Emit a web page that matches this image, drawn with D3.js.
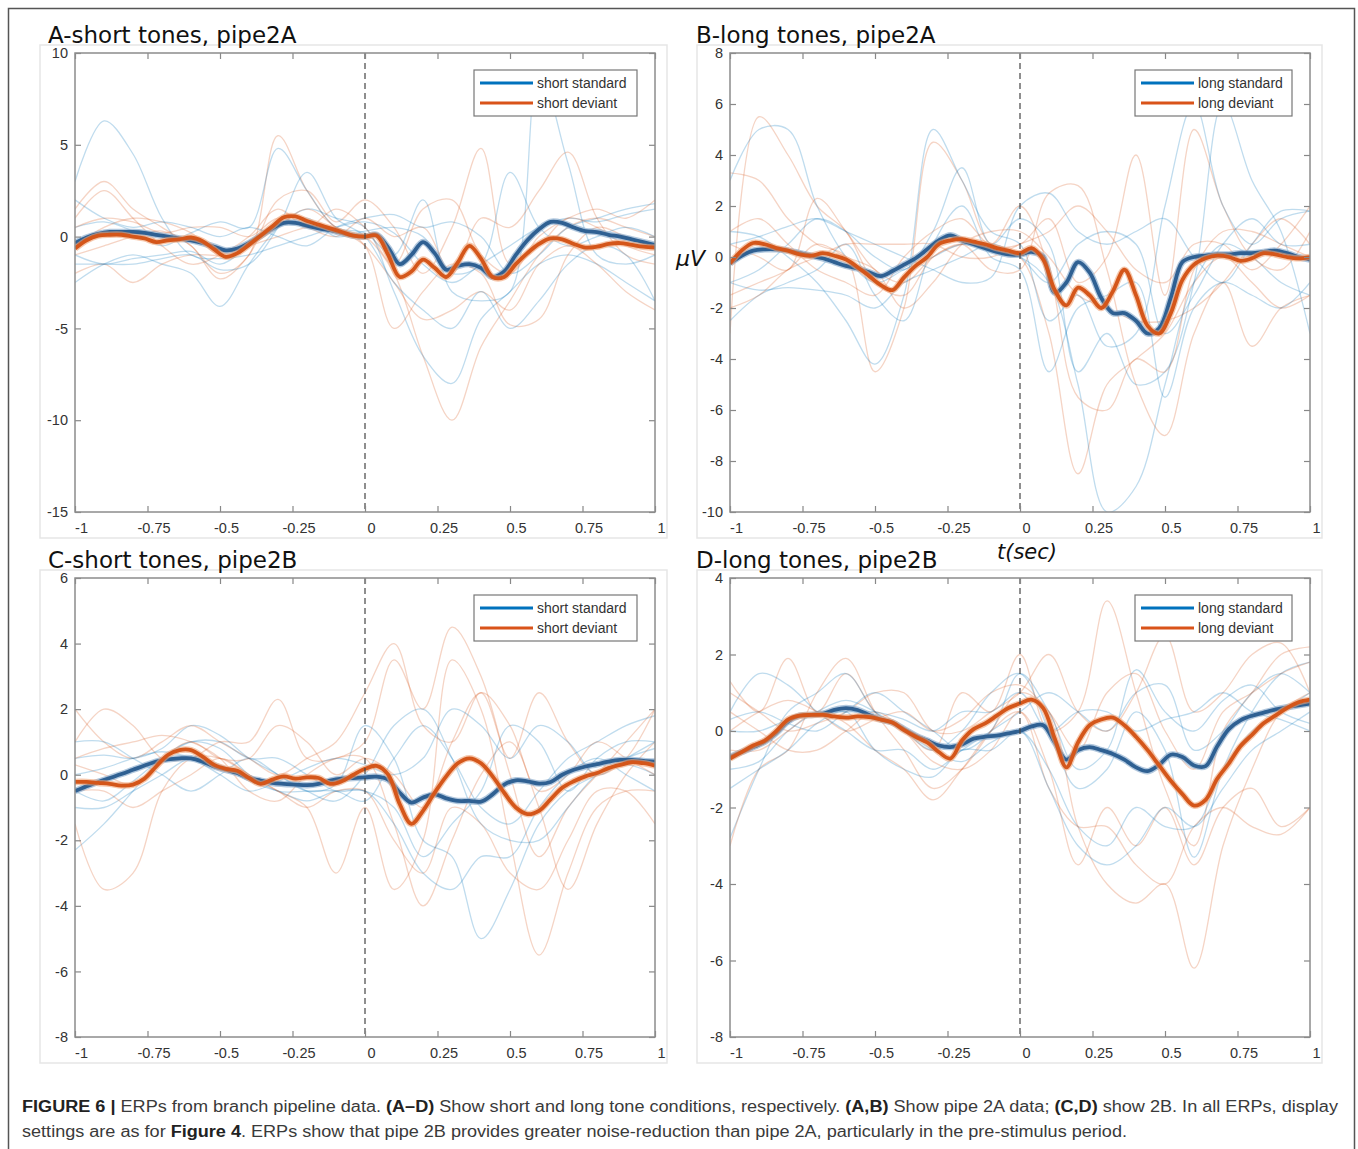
<!DOCTYPE html>
<html lang="en">
<head>
<meta charset="UTF-8">
<title>ERPs from branch pipeline data</title>
<script src="https://cdn.jsdelivr.net/npm/d3@7"></script>
<style>
body { margin: 0; background: #fff; }
svg text { font-family: "Liberation Sans", Arial, sans-serif; }
.title { font-family: "DejaVu Sans", sans-serif; font-size: 23px; fill: #111; }
.tick text { font-size: 14.5px; fill: #333; }
.legend text { font-size: 14px; fill: #333; }
.caption { font-size: 16px; fill: #3a3a3a; }
</style>
</head>
<body>
<svg id="fig" width="1358" height="1149"></svg>
<script>
// ---- data ----
// time grid for the grand averages (s), every 40 ms
var tMean = d3.range(-1, 1.0001, 0.04);
// time grid for the single-subject traces (s)
var tTrial = d3.range(-1, 1.0001, 0.1);
var xTicks = [-1, -0.75, -0.5, -0.25, 0, 0.25, 0.5, 0.75, 1];

// A - short tones, pipe2A
var aStd = [-0.35,-0.05,0.15,0.25,0.25,0.25,0.2,0.1,0.0,-0.1,
  -0.2,-0.35,-0.55,-0.75,-0.65,-0.35,0.05,0.45,0.75,0.75,
  0.6,0.45,0.35,0.2,0.05,0.0,0.1,-0.6,-1.5,-1.0,
  -0.3,-0.9,-1.8,-1.6,-1.5,-1.7,-2.2,-1.9,-1.0,-0.2,
  0.4,0.8,0.75,0.5,0.3,0.25,0.1,0.0,-0.15,-0.3,-0.45];
var aDev = [-0.65,-0.2,0.05,0.1,0.1,0.0,-0.1,-0.3,-0.2,-0.15,
  -0.05,-0.25,-0.7,-1.1,-0.9,-0.45,0.05,0.55,1.05,1.1,
  0.85,0.65,0.45,0.25,0.05,0.0,0.05,-1.0,-2.2,-1.9,
  -1.25,-1.7,-2.2,-1.4,-0.5,-1.2,-2.2,-2.2,-1.5,-0.9,
  -0.4,-0.1,-0.15,-0.4,-0.6,-0.55,-0.4,-0.35,-0.45,-0.55,-0.6];
var aStdTrials = [
  [3.0,6.3,4.5,1.0,-1.0,-1.2,-1.0,-0.5,0.0,0.5,0.8,0.2,-1.5,-2.5,-1.5,-0.5,0.5,1.0,0.8,1.2,1.5],
  [-2.5,-1.5,-1.0,-1.5,-2.0,-3.8,-1.5,0.5,1.5,1.0,0.5,-3.0,-6.5,-8.0,-4.5,-3.0,-1.5,-1.0,-1.5,-2.5,-3.5],
  [0.5,0.8,0.3,-0.5,0.2,0.8,0.5,4.8,2.5,0.5,0.2,-1.0,2.0,-3.0,-3.5,-3.0,9.0,4.0,-1.0,-1.5,-1.0],
  [-1.0,-1.5,-1.2,-1.0,-0.8,-1.5,-0.5,0.5,1.0,0.0,0.3,0.5,0.0,-2.0,-1.5,3.5,0.5,-0.5,0.0,0.5,0.0],
  [2.0,1.0,0.5,0.8,0.5,0.0,0.5,0.0,-0.5,0.5,1.0,1.2,0.5,0.8,0.0,-2.0,-1.0,0.5,1.0,1.5,1.8],
  [-1.5,-1.5,-1.5,-1.2,-1.0,-1.8,-1.5,0.5,3.5,1.0,0.0,-2.5,-4.0,-5.0,-3.0,-5.0,-3.5,-1.5,-0.5,-1.0,-3.5]
];
var aDevTrials = [
  [1.5,3.0,1.5,0.5,-0.5,-2.0,-1.0,5.5,2.5,0.5,0.0,-2.0,-6.5,-10.0,-6.0,-3.5,-1.0,0.5,1.0,0.5,0.0],
  [-1.0,-0.5,0.0,0.3,-0.5,-2.3,-1.0,2.0,2.5,0.8,2.0,0.5,-2.0,0.5,4.8,-1.5,-0.5,1.0,0.5,-0.5,-1.0],
  [-2.0,-1.5,-2.5,-1.5,-1.0,-1.0,-0.5,0.0,0.5,0.5,-0.5,-5.0,-3.0,-1.5,-2.0,-4.8,-4.5,-1.0,0.5,0.0,-0.5],
  [0.5,1.0,0.8,0.2,0.5,0.5,0.0,1.0,0.5,0.0,1.0,0.0,0.5,-2.0,1.0,0.5,2.5,4.6,1.0,-1.0,-1.5],
  [-0.5,0.5,1.0,0.8,0.2,-1.0,-0.5,0.5,1.5,0.5,-0.5,-2.5,-4.5,-4.0,-3.0,-4.0,-1.5,-0.5,-1.5,-3.0,-4.0],
  [1.0,2.5,1.0,-0.5,-1.5,-1.0,0.0,1.5,0.5,1.5,0.5,-1.5,1.5,2.0,-1.0,-2.0,0.0,1.0,1.5,1.0,2.0]
];

// B - long tones, pipe2A
var bStd = [-0.25,0.05,0.25,0.3,0.3,0.25,0.15,0.05,-0.05,-0.2,
  -0.35,-0.45,-0.6,-0.75,-0.55,-0.3,-0.05,0.3,0.65,0.85,
  0.65,0.5,0.35,0.2,0.1,0.1,0.2,0.0,-1.4,-1.0,
  -0.2,-0.6,-1.6,-2.2,-2.2,-2.5,-3.0,-2.8,-1.6,-0.2,
  0.0,0.05,0.1,0.1,0.15,0.15,0.2,0.25,0.15,0.0,-0.1];
var bDev = [-0.25,0.25,0.55,0.5,0.35,0.25,0.1,0.05,0.15,0.05,
  -0.1,-0.4,-0.75,-1.1,-1.3,-0.8,-0.35,0.0,0.5,0.65,
  0.7,0.6,0.5,0.35,0.25,0.15,0.35,-0.1,-1.3,-1.9,
  -1.2,-1.5,-2.0,-1.35,-0.5,-1.5,-2.7,-3.0,-2.2,-0.9,
  -0.3,-0.05,0.05,0.0,-0.15,-0.05,0.15,0.1,0.0,-0.05,0.0];
var bStdTrials = [
  [3.0,5.0,5.0,2.0,0.0,-1.0,-0.5,0.0,0.5,0.2,0.0,-1.0,-5.0,-10.0,-9.0,-5.0,-1.0,0.5,0.0,-1.0,-1.5],
  [1.0,0.8,0.0,-1.0,-2.5,-4.2,-1.5,5.0,3.0,1.0,0.5,-2.5,-1.5,-3.5,-3.0,2.0,6.0,2.0,0.5,1.5,1.8],
  [-1.0,-0.5,0.5,1.5,1.0,0.0,-0.5,1.0,3.5,0.5,1.5,0.5,-4.5,-3.0,-5.0,-4.5,-1.0,6.0,3.0,1.0,-3.0],
  [-2.5,-1.5,-1.0,-0.5,0.5,-1.5,-2.5,0.5,2.0,0.0,-0.5,-4.5,-2.0,-1.5,-1.0,-5.5,-2.0,-1.0,-1.5,-2.0,-1.0],
  [0.5,0.8,1.2,1.5,1.0,0.5,0.0,-0.5,-1.0,-0.8,2.0,2.5,1.0,0.5,1.0,1.5,0.0,-1.0,0.5,1.8,1.8],
  [-1.0,-1.3,-1.2,-1.3,-1.5,-2.0,-1.0,-0.5,0.0,0.5,0.0,-1.0,0.5,1.0,0.5,-3.0,-1.5,0.5,1.5,0.5,0.5]
];
var bDevTrials = [
  [-3.0,5.5,4.0,2.0,1.0,-1.0,-1.5,0.0,0.5,0.5,0.0,-3.0,-8.5,-5.0,-4.0,-3.0,-1.0,0.0,-1.0,-2.0,-1.5],
  [3.3,3.0,1.5,0.5,0.0,-4.5,-2.0,4.5,3.0,0.5,0.5,1.5,-1.0,0.0,4.0,-1.5,5.0,2.0,0.0,-0.5,1.0],
  [0.5,0.0,-0.5,2.3,1.0,-0.5,-1.0,0.0,0.5,-0.5,-0.5,2.5,2.8,-0.5,-5.0,-7.0,-3.0,-1.0,-3.5,-2.0,-1.5],
  [-1.5,-1.0,-0.5,0.5,0.0,-0.5,-2.0,-1.0,0.5,1.0,1.0,0.0,-1.5,-2.0,-2.5,-2.5,-2.0,-1.0,0.5,1.5,0.5],
  [1.0,1.5,0.5,-0.5,-1.0,-1.5,0.0,1.0,1.5,0.5,2.0,-0.5,-5.5,-6.0,-4.0,-4.5,-0.5,1.0,1.0,0.5,0.0],
  [-2.0,-1.5,-0.5,0.0,0.5,0.5,0.5,0.5,0.0,0.0,0.5,1.0,2.0,1.0,-0.5,-1.0,0.5,0.5,-0.5,0.5,2.0]
];

// C - short tones, pipe2B
var cStd = [-0.5,-0.35,-0.22,-0.1,0.02,0.15,0.28,0.4,0.47,0.5,
  0.5,0.4,0.25,0.15,0.05,-0.1,-0.18,-0.25,-0.28,-0.3,
  -0.32,-0.28,-0.18,-0.12,-0.1,-0.08,-0.06,-0.15,-0.55,-0.85,
  -0.7,-0.6,-0.72,-0.8,-0.8,-0.82,-0.6,-0.3,-0.17,-0.2,
  -0.27,-0.22,0.0,0.15,0.25,0.32,0.4,0.45,0.45,0.42,0.4];
var cDev = [-0.22,-0.22,-0.25,-0.28,-0.33,-0.3,-0.12,0.25,0.6,0.75,
  0.75,0.55,0.3,0.18,0.12,-0.1,-0.28,-0.15,-0.05,-0.12,
  -0.08,-0.1,-0.28,-0.2,0.0,0.18,0.27,0.0,-0.9,-1.5,
  -1.1,-0.55,-0.05,0.35,0.5,0.35,-0.05,-0.55,-1.0,-1.2,
  -1.1,-0.75,-0.4,-0.2,-0.05,0.05,0.2,0.3,0.38,0.35,0.28];
var cStdTrials = [
  [-2.3,-1.5,-0.5,0.5,1.0,0.8,0.0,-0.5,-0.5,-0.5,-0.8,0.5,1.5,0.5,-1.0,-1.5,-0.5,0.5,1.0,1.5,1.8],
  [0.5,0.6,0.5,0.8,1.5,1.2,0.5,0.0,-0.5,-0.3,1.5,0.5,-2.0,-2.5,-5.0,-3.5,-1.5,-0.5,0.0,0.5,0.8],
  [-1.0,-1.0,-0.5,0.0,0.5,0.3,-0.2,-0.5,-0.8,-0.5,-0.5,-1.0,-2.5,-1.5,-0.5,1.5,1.0,-0.5,0.5,1.0,1.0],
  [1.0,1.0,0.5,0.0,-0.5,0.0,0.5,0.0,-0.5,-0.8,0.0,1.5,2.0,0.5,-1.5,-2.0,-2.0,-1.0,0.0,0.3,0.0],
  [-0.5,-0.8,-0.2,0.5,1.0,1.0,0.5,0.5,0.0,-0.5,-0.5,-1.5,-3.0,-3.5,-2.5,-2.5,-1.0,0.0,0.5,0.0,-0.5],
  [0.0,0.2,0.5,0.7,0.5,0.0,-0.5,-0.2,0.2,0.5,0.3,0.0,0.5,2.0,1.5,0.5,1.5,1.0,0.0,0.5,1.0]
];
var cDevTrials = [
  [1.0,2.0,1.5,0.5,0.5,1.0,1.0,2.3,0.5,0.5,1.0,3.5,2.0,4.5,3.0,0.0,-2.5,-1.0,0.0,1.0,2.0],
  [-1.5,-3.5,-3.0,-0.5,0.5,0.5,0.0,-0.5,-1.0,-3.0,-1.0,-3.5,-2.0,3.5,2.0,-2.0,-5.5,-3.0,-1.0,-0.5,-0.5],
  [0.5,0.8,1.0,1.2,1.0,0.5,-0.5,-0.8,0.0,0.5,0.5,-1.5,-4.0,-2.0,0.0,1.0,-1.0,-3.5,-1.5,0.0,1.0],
  [2.0,1.0,0.5,1.0,1.5,1.0,0.5,0.0,0.5,1.0,2.5,4.0,1.5,1.0,2.5,0.5,2.5,1.0,0.0,0.5,2.0],
  [-0.5,-0.5,-1.0,-0.5,0.0,0.5,0.0,-0.5,-1.0,-0.5,-0.5,-2.0,-3.0,-1.0,-1.5,-3.0,-3.5,-2.0,-0.5,-0.5,-1.5],
  [0.3,0.0,-0.3,0.5,1.0,0.5,0.5,1.5,1.0,0.0,0.5,0.0,-1.0,1.0,2.5,1.5,-0.5,0.0,1.0,0.5,0.0]
];

// D - long tones, pipe2B
var dStd = [-0.68,-0.55,-0.42,-0.28,-0.05,0.25,0.4,0.42,0.45,0.55,
  0.6,0.55,0.42,0.3,0.22,0.05,-0.12,-0.25,-0.38,-0.42,
  -0.35,-0.2,-0.15,-0.12,-0.06,0.0,0.12,0.15,-0.3,-0.75,
  -0.5,-0.42,-0.5,-0.6,-0.75,-0.95,-1.05,-0.88,-0.62,-0.68,
  -0.9,-0.92,-0.4,0.05,0.28,0.4,0.48,0.56,0.62,0.67,0.72];
var dDev = [-0.72,-0.55,-0.38,-0.25,0.0,0.3,0.4,0.42,0.42,0.38,
  0.35,0.38,0.36,0.3,0.22,0.02,-0.15,-0.3,-0.55,-0.72,
  -0.25,0.05,0.2,0.4,0.6,0.72,0.82,0.6,-0.2,-0.95,
  -0.3,0.15,0.3,0.35,0.15,-0.15,-0.5,-0.9,-1.3,-1.65,
  -1.95,-1.8,-1.25,-0.85,-0.4,-0.1,0.2,0.4,0.6,0.75,0.82];
var dStdTrials = [
  [-2.8,-1.0,0.5,1.0,1.5,0.5,0.0,-0.5,0.0,1.0,1.5,0.0,-1.5,-1.0,0.5,-0.5,-3.3,-1.0,0.5,1.5,1.8],
  [0.5,1.5,1.2,0.5,0.0,-0.5,-0.5,-1.0,-0.5,0.0,0.5,1.0,0.5,0.0,1.0,1.2,-0.5,0.0,1.0,1.5,1.0],
  [-1.0,-0.8,0.0,0.5,0.8,0.5,0.0,-0.5,-0.8,-0.3,0.0,-1.0,-2.5,-3.0,-2.0,-2.5,-2.5,-1.0,0.0,0.5,1.0],
  [0.3,0.5,0.2,0.0,0.5,1.0,0.5,0.0,-0.5,0.0,1.5,0.5,-1.0,-0.5,1.6,0.5,0.0,0.8,1.2,0.5,0.2],
  [-1.5,-1.0,-0.5,0.2,0.5,-0.5,-1.0,-1.2,-0.5,-0.5,0.0,-1.5,-3.0,-3.5,-3.0,-2.0,-2.5,-1.5,-0.5,0.0,0.5],
  [0.0,0.0,0.3,0.5,0.5,0.5,0.3,0.0,0.5,0.5,1.0,0.0,0.5,0.5,0.0,0.3,0.5,1.0,0.5,0.3,0.0]
];
var dDevTrials = [
  [1.3,0.5,1.9,0.5,1.5,0.5,0.0,-0.5,1.0,0.5,2.0,0.0,0.5,3.4,1.0,-1.5,-3.0,0.0,1.0,2.0,2.2],
  [-3.0,-1.0,-0.5,1.0,1.9,0.5,-0.5,-1.5,-1.0,0.0,1.0,0.5,-2.5,-4.0,-4.5,-4.0,-6.2,-3.0,-1.0,0.5,1.0],
  [0.5,0.0,-0.5,-0.5,0.0,0.5,0.0,-0.8,-1.0,-0.5,0.5,-1.0,-3.5,-2.0,-3.0,-2.0,-3.5,-2.0,-1.5,-2.5,-2.0],
  [1.0,0.5,0.0,0.2,0.5,1.0,1.0,0.0,0.0,0.5,1.0,2.0,0.5,0.0,1.0,2.5,0.5,1.0,2.0,2.3,1.0],
  [-0.5,-0.5,0.0,0.5,0.2,-0.5,-1.0,-1.8,-1.0,0.0,0.5,-1.5,-2.5,-2.5,-3.5,-4.0,-2.5,-2.0,-2.5,-2.7,-2.0],
  [0.0,0.5,0.8,0.5,0.0,0.3,0.5,0.0,0.3,1.0,1.2,0.5,-0.5,1.0,1.5,0.0,-1.0,0.5,1.0,1.5,1.8]
];

// ---- layout ----
var panels = [
  { id: "A", title: "A-short tones, pipe2A", titleX: 48, left: 75, right: 655, top: 53, bottom: 512,
    yDomain: [-15, 10], yTicks: [-15, -10, -5, 0, 5, 10], names: ["short standard", "short deviant"],
    std: aStd, dev: aDev, stdTr: aStdTrials, devTr: aDevTrials, frame: [40, 45, 667, 538] },
  { id: "B", title: "B-long tones, pipe2A", titleX: 696, left: 730, right: 1310, top: 53, bottom: 512,
    yDomain: [-10, 8], yTicks: [-10, -8, -6, -4, -2, 0, 2, 4, 6, 8], names: ["long standard", "long deviant"],
    std: bStd, dev: bDev, stdTr: bStdTrials, devTr: bDevTrials, frame: [697, 45, 1322, 538] },
  { id: "C", title: "C-short tones, pipe2B", titleX: 48, left: 75, right: 655, top: 578, bottom: 1037,
    yDomain: [-8, 6], yTicks: [-8, -6, -4, -2, 0, 2, 4, 6], names: ["short standard", "short deviant"],
    std: cStd, dev: cDev, stdTr: cStdTrials, devTr: cDevTrials, frame: [40, 570, 667, 1063] },
  { id: "D", title: "D-long tones, pipe2B", titleX: 696, left: 730, right: 1310, top: 578, bottom: 1037,
    yDomain: [-8, 4], yTicks: [-8, -6, -4, -2, 0, 2, 4], names: ["long standard", "long deviant"],
    std: dStd, dev: dDev, stdTr: dStdTrials, devTr: dDevTrials, frame: [697, 570, 1322, 1063] }
];

var blue = "#0072BD", orange = "#D95319";
var blueMean = "#2f6092", orangeMean = "#d4561a";

var svg = d3.select("#fig");

// outer figure border
svg.append("path")
  .attr("d", "M8.5,1160 V8.5 H1354.5 V1160")
  .attr("fill", "none").attr("stroke", "#555").attr("stroke-width", 1.5);

panels.forEach(function (p) {
  var x = d3.scaleLinear().domain([-1, 1]).range([p.left, p.right]);
  var y = d3.scaleLinear().domain(p.yDomain).range([p.bottom, p.top]);
  var g = svg.append("g");

  // faint panel frame
  g.append("rect")
    .attr("x", p.frame[0]).attr("y", p.frame[1])
    .attr("width", p.frame[2] - p.frame[0]).attr("height", p.frame[3] - p.frame[1])
    .attr("fill", "none").attr("stroke", "#e6e6e6").attr("stroke-width", 1.5);

  g.append("clipPath").attr("id", "clip" + p.id)
    .append("rect").attr("x", p.left).attr("y", p.top)
    .attr("width", p.right - p.left).attr("height", p.bottom - p.top);

  var trialLine = d3.line()
    .x(function (d, i) { return x(tTrial[i]); })
    .y(function (d) { return y(d); })
    .curve(d3.curveCatmullRom.alpha(0.5));
  var meanLine = d3.line()
    .x(function (d, i) { return x(tMean[i]); })
    .y(function (d) { return y(d); })
    .curve(d3.curveCatmullRom.alpha(0.5));

  var plot = g.append("g").attr("clip-path", "url(#clip" + p.id + ")");

  // single subjects, interleaved
  p.stdTr.forEach(function (s, i) {
    plot.append("path").datum(p.devTr[i]).attr("d", trialLine)
      .attr("fill", "none").attr("stroke", orange).attr("stroke-opacity", 0.25).attr("stroke-width", 1.3);
    plot.append("path").datum(s).attr("d", trialLine)
      .attr("fill", "none").attr("stroke", blue).attr("stroke-opacity", 0.25).attr("stroke-width", 1.3);
  });

  // stimulus onset
  g.append("line")
    .attr("x1", x(0)).attr("x2", x(0)).attr("y1", p.top).attr("y2", p.bottom)
    .attr("stroke", "#444").attr("stroke-width", 1.2).attr("stroke-dasharray", "6,4");

  // grand averages
  [[p.std, blueMean, "#7fa3c8"], [p.dev, orangeMean, "#f0a477"]].forEach(function (m) {
    plot.append("path").datum(m[0]).attr("d", meanLine)
      .attr("fill", "none").attr("stroke", m[2]).attr("stroke-width", 6.5).attr("stroke-opacity", 0.6);
    plot.append("path").datum(m[0]).attr("d", meanLine)
      .attr("fill", "none").attr("stroke", m[1]).attr("stroke-width", 3.8);
  });

  // axes (matlab style: box on, ticks inward)
  var ax = g.append("g").attr("color", "#888");
  ax.append("g").attr("transform", "translate(0," + p.bottom + ")")
    .call(d3.axisBottom(x).tickValues(xTicks).tickFormat(function (d) { return String(d); })
      .tickSizeInner(-6).tickSizeOuter(0).tickPadding(11))
    .call(function (s) { s.select(".domain").remove(); s.selectAll("text").attr("dx", 6); });
  ax.append("g").attr("transform", "translate(0," + p.top + ")")
    .call(d3.axisTop(x).tickValues(xTicks).tickFormat("").tickSizeInner(-6).tickSizeOuter(0))
    .call(function (s) { s.select(".domain").remove(); });
  ax.append("g").attr("transform", "translate(" + p.left + ",0)")
    .call(d3.axisLeft(y).tickValues(p.yTicks).tickFormat(function (d) { return String(d); })
      .tickSizeInner(-6).tickSizeOuter(0).tickPadding(7))
    .call(function (s) { s.select(".domain").remove(); });
  ax.append("g").attr("transform", "translate(" + p.right + ",0)")
    .call(d3.axisRight(y).tickValues(p.yTicks).tickFormat("").tickSizeInner(-6).tickSizeOuter(0))
    .call(function (s) { s.select(".domain").remove(); });
  ax.selectAll(".tick line").attr("stroke-width", 1.2);
  ax.append("rect")
    .attr("x", p.left).attr("y", p.top)
    .attr("width", p.right - p.left).attr("height", p.bottom - p.top)
    .attr("fill", "none").attr("stroke", "#8c8c8c").attr("stroke-width", 1.5);

  // title
  g.append("text").attr("class", "title")
    .attr("x", p.titleX).attr("y", p.top - 10).text(p.title);

  // legend
  var lw = p.names[0].length > 13 ? 163 : 157;
  var lg = g.append("g").attr("class", "legend")
    .attr("transform", "translate(" + (p.right - 18 - lw) + "," + (p.top + 17) + ")");
  lg.append("rect").attr("width", lw).attr("height", 46)
    .attr("fill", "#fff").attr("stroke", "#777").attr("stroke-width", 1.2);
  [blue, orange].forEach(function (c, i) {
    lg.append("line").attr("x1", 6).attr("x2", 59).attr("y1", 13 + i * 20).attr("y2", 13 + i * 20)
      .attr("stroke", c).attr("stroke-width", 3);
    lg.append("text").attr("x", 63).attr("y", 13 + i * 20).attr("dy", "0.35em").text(p.names[i]);
  });
});

// shared axis labels
svg.append("text").attr("x", 676).attr("y", 266)
  .style("font-family", "DejaVu Sans, sans-serif").style("font-style", "italic")
  .style("font-size", "22px").attr("fill", "#111").text("μV");
svg.append("text").attr("x", 997).attr("y", 559)
  .style("font-family", "DejaVu Sans, sans-serif").style("font-style", "italic")
  .style("font-size", "21px").attr("fill", "#111").text("t(sec)");

// caption
var capLines = [
  [["FIGURE 6 | ", 1], ["ERPs from branch pipeline data. ", 0], ["(A–D)", 1],
   [" Show short and long tone conditions, respectively. ", 0], ["(A,B)", 1],
   [" Show pipe 2A data; ", 0], ["(C,D)", 1], [" show 2B. In all ERPs, display", 0]],
  [["settings are as for ", 0], ["Figure 4", 1],
   [". ERPs show that pipe 2B provides greater noise-reduction than pipe 2A, particularly in the pre-stimulus period.", 0]]
];
var capWidths = [1316, 1105];
capLines.forEach(function (line, i) {
  var t = svg.append("text").attr("class", "caption")
    .attr("x", 22).attr("y", 1112 + i * 25)
    .attr("textLength", capWidths[i]).attr("lengthAdjust", "spacingAndGlyphs");
  line.forEach(function (part) {
    t.append("tspan").text(part[0])
      .attr("font-weight", part[1] ? "bold" : null)
      .attr("fill", part[1] ? "#222" : null);
  });
});
</script>
</body>
</html>
